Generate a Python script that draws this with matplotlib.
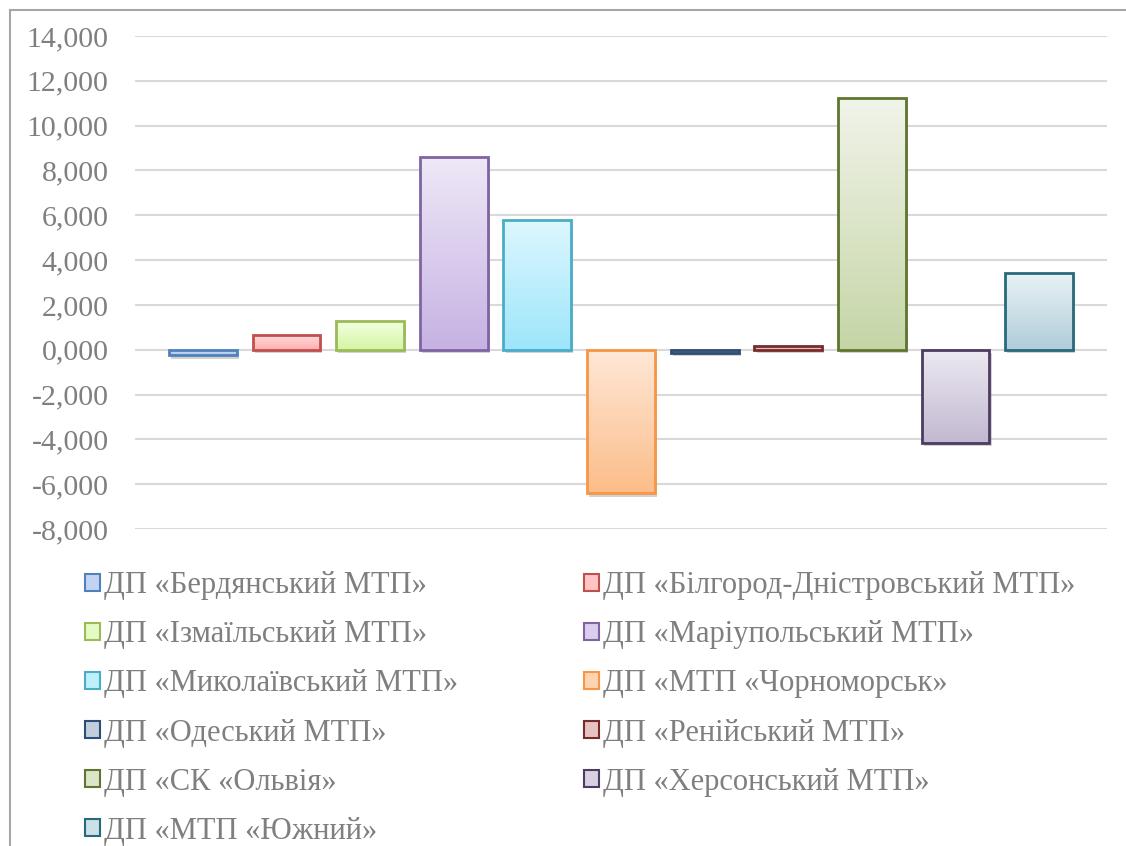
import matplotlib
matplotlib.use('Agg')
import matplotlib.pyplot as plt
import matplotlib.patheffects as pe
from matplotlib.colors import LinearSegmentedColormap, to_rgb
from matplotlib.patches import Rectangle
from matplotlib.ticker import FuncFormatter, MultipleLocator
from matplotlib.lines import Line2D
import numpy as np

plt.rcParams['font.family'] = ['Liberation Serif', 'DejaVu Serif']

# ports and their values
ports = [
	'ДП «Бердянський МТП»',
	'ДП «Білгород-Дністровський МТП»',
	'ДП «Ізмаїльський МТП»',
	'ДП «Маріупольський МТП»',
	'ДП «Миколаївський МТП»',
	'ДП «МТП «Чорноморськ»',
	'ДП «Одеський МТП»',
	'ДП «Ренійський МТП»',
	'ДП «СК «Ольвія»',
	'ДП «Херсонський МТП»',
	'ДП «МТП «Южний»',
]
values = [-0.25, 0.65, 1.29, 8.58, 5.80, -6.40, -0.13, 0.16, 11.24, -4.15, 3.43]

# excel 2007 style: edge colour, light top, darker bottom
edge_colors = ['#4F81BD', '#C0504D', '#9BBB59', '#8064A2', '#4BACC6', '#F79646',
			   '#2C4D75', '#772C2A', '#5F7530', '#4D3B62', '#276A7C']
top_colors = ['#DCE6F8', '#FFDCDC', '#F2FFE0', '#EEE8F7', '#DDF7FE', '#FFE8D8',
			  '#DDE3EC', '#F2DCDB', '#F1F4EA', '#ECE9F1', '#E9F2F5']
bottom_colors = ['#A7C3EC', '#FFAEAE', '#D5F5A3', '#C6B2E3', '#9DE6FB', '#FCBD89',
				 '#A9B8CC', '#D9A9A8', '#C5D5A6', '#C2B8D0', '#AFCDD9']

def fmt(v, pos):
	return ('%.3f' % v).replace('.', ',')

fig = plt.figure(figsize=(11.26, 8.46), dpi=100)
ax = fig.add_axes([135 / 1126, 1 - 529 / 846, 972 / 1126, 493 / 846])

x = np.arange(len(ports))
width = 0.81

# shadows
ax.bar(x, values, width, color='white', edgecolor='none', zorder=2,
	   path_effects=[pe.SimplePatchShadow(offset=(1.5, -2.5), shadow_rgbFace='#808080', alpha=0.35)])
bars = ax.bar(x, values, width, color='none', edgecolor=edge_colors, linewidth=2, zorder=4)

grad = np.linspace(0, 1, 256).reshape(-1, 1)
for i, b in enumerate(bars):
	cmap = LinearSegmentedColormap.from_list('g%d' % i, [top_colors[i], bottom_colors[i]])
	x0 = b.get_x()
	y0, y1 = sorted([0, values[i]])
	# row 0 (light colour) goes on top
	im = ax.imshow(grad, cmap=cmap, extent=[x0, x0 + width, y0, y1], origin='upper',
				   aspect='auto', zorder=3, interpolation='bilinear')
	im.set_clip_path(b)

ax.set_xlim(-0.5 - 0.31, len(ports) - 0.5 + 0.31)
ax.set_ylim(-8, 14)
ax.yaxis.set_major_locator(MultipleLocator(2))
ax.yaxis.set_major_formatter(FuncFormatter(fmt))
ax.set_xticks([])
ax.tick_params(axis='y', length=0, pad=19, labelsize=21.5, labelcolor='#7F7F7F')
for s in ax.spines.values():
	s.set_visible(False)
ax.grid(axis='y', color='#D9D9D9', linewidth=1.5, zorder=0)
ax.set_axisbelow(True)

# legend, filled row by row like excel
mid = [tuple((np.array(to_rgb(t)) + np.array(to_rgb(b))) / 2) for t, b in zip(top_colors, bottom_colors)]
handles = [Rectangle((0, 0), 1, 1, facecolor=mid[i], edgecolor=edge_colors[i], linewidth=1.5)
		   for i in range(len(ports))]
order = list(range(0, len(ports), 2)) + list(range(1, len(ports), 2))
leg = fig.legend([handles[i] for i in order], [ports[i] for i in order], ncol=2,
				 loc='upper left', bbox_to_anchor=(85 / 1126, 1 - 571 / 846),
				 frameon=False, fontsize=22, labelcolor='#7F7F7F',
				 handlelength=0.48, handleheight=0.48, handletextpad=0.13,
				 columnspacing=4.15, labelspacing=0.66, borderpad=0, borderaxespad=0)

# outer chart frame: only top and left edges are visible
fig.add_artist(Line2D([10 / 1126, 1], [1 - 10 / 846, 1 - 10 / 846], color='#A6A6A6', linewidth=1.5))
fig.add_artist(Line2D([10 / 1126, 10 / 1126], [0, 1 - 10 / 846], color='#A6A6A6', linewidth=1.5))

fig.savefig('out.png', dpi=100)
